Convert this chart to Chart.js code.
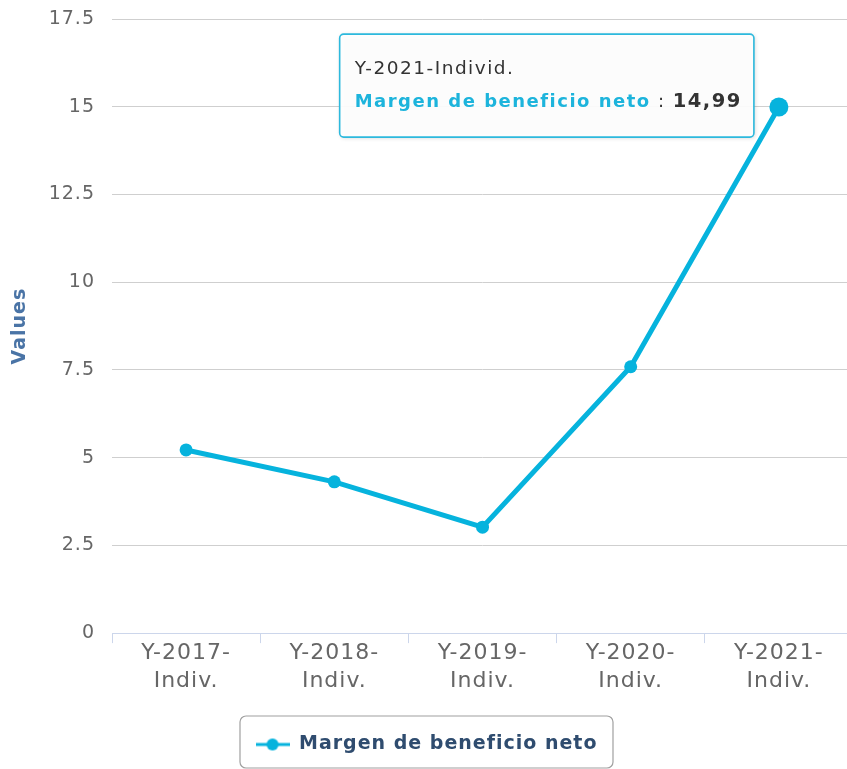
<!DOCTYPE html>
<html><head><meta charset="utf-8">
<script src="https://cdn.jsdelivr.net/npm/chart.js@4/dist/chart.umd.min.js"></script>
<style>
html,body{margin:0;padding:0;overflow:hidden;background:#fff}
#wrap{position:absolute;left:0;top:0;width:847px;height:769px;overflow:hidden}
canvas{display:block}
</style>
</head><body>
<div id="wrap"><canvas id="c" width="853" height="769" style="width:853px;height:769px"></canvas></div>
<script>
const categories = [["Y-2017-","Indiv."],["Y-2018-","Indiv."],["Y-2019-","Indiv."],["Y-2020-","Indiv."],["Y-2021-","Indiv."]];
const tooltipCategories = ["Y-2017-Individ.","Y-2018-Individ.","Y-2019-Individ.","Y-2020-Individ.","Y-2021-Individ."];
const seriesName = "Margen de beneficio neto";
const seriesValues = [5.22, 4.31, 3.02, 7.59, 14.99];
const yAxisTitle = "Values";
const yMin = 0, yMax = 17.5, yStep = 2.5;
const activeIndex = 4;

const FONT = "'DejaVu Sans', Verdana, sans-serif";
const SERIES_COLOR = '#06b3dd';
const SPACING = '1px';

// legend marker: line with a circle
const marker = document.createElement('canvas');
marker.width = 34; marker.height = 14;
(function(){
  const m = marker.getContext('2d');
  m.strokeStyle = SERIES_COLOR; m.lineWidth = 3;
  m.beginPath(); m.moveTo(0,7); m.lineTo(34,7); m.stroke();
  m.fillStyle = SERIES_COLOR; m.beginPath(); m.arc(17,7,6,0,Math.PI*2); m.fill();
})();

const fmt = v => v.toFixed(2).replace('.', ',');

const spacing = {
  id: 'spacing',
  beforeUpdate(chart) { chart.ctx.letterSpacing = SPACING; },
  beforeLayout(chart) { chart.ctx.letterSpacing = SPACING; },
  beforeDraw(chart) { chart.ctx.letterSpacing = SPACING; }
};

const extras = {
  id: 'extras',
  afterDraw(chart) {
    const ctx = chart.ctx;
    // legend border
    const hb = chart.legend && chart.legend.legendHitBoxes && chart.legend.legendHitBoxes[0];
    if (hb) {
      const cy = hb.top + hb.height / 2;
      const l = hb.left - 16, r = hb.left + hb.width + 15, t = cy - 29, b = cy + 23;
      ctx.save();
      ctx.strokeStyle = '#a0a0a0'; ctx.lineWidth = 1.2;
      ctx.beginPath(); ctx.roundRect(l + 0.5, t + 0.5, r - l, b - t, 6); ctx.stroke();
      ctx.restore();
    }
    // tooltip
    const pt = chart.getDatasetMeta(0).data[activeIndex];
    if (!pt) return;
    ctx.save();
    ctx.letterSpacing = '1.5px';
    const headerFont = '18.5px ' + FONT;
    const nameFont = 'bold 18px ' + FONT;
    const sepFont = '18px ' + FONT;
    const valFont = 'bold 19.5px ' + FONT;
    const header = tooltipCategories[activeIndex];
    const val = fmt(seriesValues[activeIndex]);
    ctx.font = headerFont; const hw = ctx.measureText(header).width;
    ctx.font = nameFont; const nw = ctx.measureText(seriesName).width;
    ctx.font = sepFont; const sw = ctx.measureText(' : ').width;
    ctx.font = valFont; const vw = ctx.measureText(val).width;
    const innerW = Math.max(hw, nw + sw + vw);
    const w = innerW + 27, h = 103;
    const right = pt.x - 25, top = pt.y - 73;
    const left = right - w;
    ctx.shadowColor = 'rgba(0,0,0,0.18)'; ctx.shadowOffsetX = 1; ctx.shadowOffsetY = 1; ctx.shadowBlur = 4;
    ctx.fillStyle = 'rgba(255,255,255,0.93)';
    ctx.beginPath(); ctx.roundRect(left, top, w, h, 4); ctx.fill();
    ctx.shadowColor = 'transparent';
    ctx.strokeStyle = '#2db9dd'; ctx.lineWidth = 1.6;
    ctx.beginPath(); ctx.roundRect(left, top, w, h, 4); ctx.stroke();
    ctx.textBaseline = 'middle'; ctx.textAlign = 'left';
    let x = left + 15;
    ctx.font = headerFont; ctx.fillStyle = '#333'; ctx.fillText(header, x, top + 35);
    const y2 = top + 68;
    ctx.font = nameFont; ctx.fillStyle = '#1db4dc'; ctx.fillText(seriesName, x, y2);
    x += nw;
    ctx.font = sepFont; ctx.fillStyle = '#333'; ctx.fillText(' : ', x, y2);
    x += sw;
    ctx.font = valFont; ctx.fillStyle = '#333'; ctx.fillText(val, x, y2);
    ctx.restore();
  }
};

new Chart(document.getElementById('c'), {
  type: 'line',
  data: {
    labels: categories,
    datasets: [{
      label: seriesName,
      data: seriesValues,
      borderColor: SERIES_COLOR,
      backgroundColor: SERIES_COLOR,
      borderWidth: 5,
      pointRadius: c => c.dataIndex === activeIndex ? 9.5 : 6.5,
      pointBorderWidth: 0,
      pointBackgroundColor: SERIES_COLOR,
      tension: 0,
      fill: false,
      clip: false
    }]
  },
  options: {
    responsive: false,
    animation: false,
    events: [],
    layout: { autoPadding: false, padding: { top: 19, right: 0, left: 0, bottom: 5 } },
    scales: {
      x: {
        type: 'category',
        offset: true,
        grid: { offset: true, drawOnChartArea: false, drawTicks: true, tickLength: 10, color: '#ccd6eb', lineWidth: 1 },
        border: { display: true, color: '#ccd6eb', width: 1 },
        ticks: { font: { family: FONT, size: 22, lineHeight: 1.27 }, color: '#666', maxRotation: 0, autoSkip: false, padding: -3.5 },
        afterFit: s => { s.height += 14; s.paddingLeft = 0; s.paddingRight = 0; }
      },
      y: {
        min: yMin, max: yMax,
        grid: { color: '#cfcfcf', lineWidth: 1, drawTicks: false },
        border: { display: false },
        ticks: { stepSize: yStep, font: { family: FONT, size: 19 }, color: '#666', padding: 17, callback: v => String(v) },
        title: { display: true, text: yAxisTitle, color: '#4a74a6', font: { family: FONT, size: 19, weight: 'bold' }, padding: { top: 9, bottom: 0 } },
        afterFit: s => { s.width = 112; s.paddingTop = 0; s.paddingBottom = 0; }
      }
    },
    plugins: {
      legend: {
        position: 'bottom',
        labels: {
          usePointStyle: true, pointStyle: marker, pointStyleWidth: 34,
          font: { family: FONT, size: 19, weight: 'bold' }, color: '#2f4c6f', padding: 29
        }
      },
      tooltip: { enabled: false }
    }
  },
  plugins: [spacing, extras]
});
</script>
</body></html>
